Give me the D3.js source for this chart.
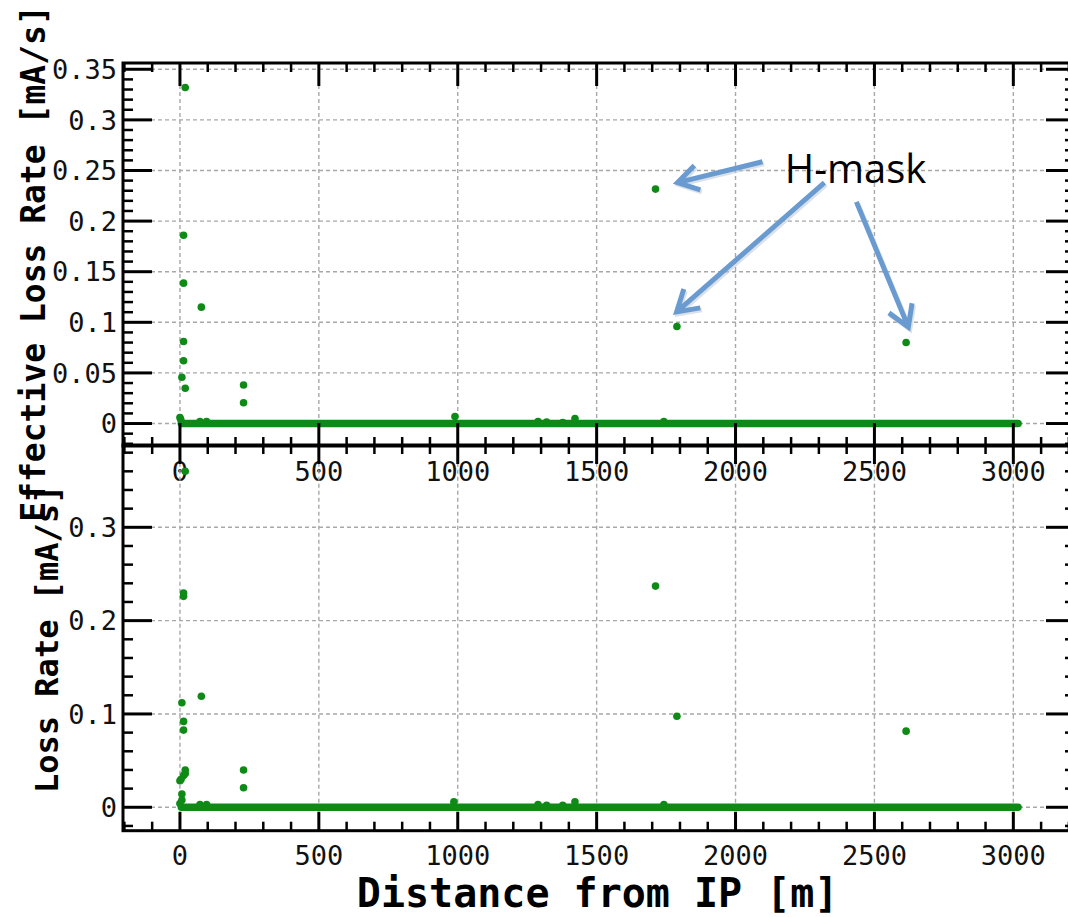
<!DOCTYPE html>
<html><head><meta charset="utf-8">
<script src="https://cdn.jsdelivr.net/npm/d3@7/dist/d3.min.js"></script>
<style>html,body{margin:0;padding:0;background:#fff}svg{display:block}</style>
</head><body>
<svg id="c" width="1068" height="917"></svg>
<script>
// ---------------- data ----------------
const xMajorTicks = [0, 500, 1000, 1500, 2000, 2500, 3000];
const xTickLabels = ["0", "500", "1000", "1500", "2000", "2500", "3000"];
const xMinorTicks = [-200,-100,100,200,300,400,600,700,800,900,1100,1200,1300,1400,1600,1700,1800,1900,2100,2200,2300,2400,2600,2700,2800,2900,3100,3200];

const topYTicks = [0, 0.05, 0.1, 0.15, 0.2, 0.25, 0.3, 0.35];
const topYTickLabels = ["0", "0.05", "0.1", "0.15", "0.2", "0.25", "0.3", "0.35"];
const topYMinor = [-0.02,-0.01,0.01,0.02,0.03,0.04,0.06,0.07,0.08,0.09,0.11,0.12,0.13,0.14,0.16,0.17,0.18,0.19,0.21,0.22,0.23,0.24,0.26,0.27,0.28,0.29,0.31,0.32,0.33,0.34];

const bottomYTicks = [0, 0.1, 0.2, 0.3];
const bottomYTickLabels = ["0", "0.1", "0.2", "0.3"];
const bottomYMinor = [-0.02,0.02,0.04,0.06,0.08,0.12,0.14,0.16,0.18,0.22,0.24,0.26,0.28,0.32,0.34,0.36,0.38];

// dense run of near-zero points (drawn as one band): [distance, rate]
const topBaseline = [[5, 0], [3017, 0]];
const bottomBaseline = [[5, 0], [3017, 0]];

// Effective loss rate [mA/s] vs distance [m]
const topPoints = [
  [19, 0.332], [13, 0.186], [13, 0.1387], [77, 0.115], [13, 0.081], [13, 0.062],
  [7, 0.0457], [19, 0.0348], [229, 0.038], [229, 0.0206],
  [1712, 0.2316], [1789, 0.0958], [2614, 0.080],
  [0, 0.006], [3, 0.004], [72, 0.002], [96, 0.002],
  [990, 0.007], [1289, 0.002], [1320, 0.0015], [1378, 0.001], [1422, 0.005], [1742, 0.002]
];
// Loss rate [mA/s] vs distance [m]
const bottomPoints = [
  [19, 0.360], [13, 0.2295], [13, 0.226], [7, 0.112], [77, 0.119], [13, 0.092], [13, 0.0827],
  [19, 0.040], [19, 0.0363], [13, 0.034], [0, 0.0285], [4, 0.030], [7, 0.0142], [7, 0.0078], [0, 0.004],
  [229, 0.040], [229, 0.021],
  [1712, 0.237], [1789, 0.0976], [2614, 0.0816],
  [72, 0.003], [96, 0.003],
  [986, 0.006], [1289, 0.003], [1320, 0.002], [1378, 0.002], [1422, 0.006], [1742, 0.003]
];

// annotation (in top-panel data units)
const annotationLabel = "H-mask";
const annotationAnchor = [2432, 0.2515];
const annotationArrows = [
  [[2097, 0.2586], [1791, 0.238]],
  [[2320, 0.2379], [1788, 0.1103]],
  [[2435, 0.219], [2622, 0.0954]]
];

// ---------------- drawing ----------------
const svg = d3.select("#c");
svg.append("rect").attr("width", 1068).attr("height", 917).attr("fill", "#fff");

const MONO = "'DejaVu Sans Mono', 'Liberation Mono', monospace";
const GREEN = "#0f8a17";
const x = d3.scaleLinear().domain([-205, 3222]).range([123, 1075]);

function panel(cfg) {
  const y = d3.scaleLinear().domain(cfg.yDomain).range(cfg.yRange);
  const g = svg.append("g");
  const [x0, x1] = x.range();
  const [yb, yt] = cfg.yRange;

  // grid
  const grid = g.append("g").attr("stroke", "#a8a8a8").attr("stroke-width", 1.4).attr("stroke-dasharray", "4,3");
  grid.selectAll(".gv").data(xMajorTicks).join("line")
    .attr("x1", d => x(d)).attr("x2", d => x(d)).attr("y1", yb).attr("y2", yt);
  grid.selectAll(".gh").data(cfg.yTicks).join("line")
    .attr("x1", x0).attr("x2", x1).attr("y1", d => y(d)).attr("y2", d => y(d));

  // data: dense band + points
  g.append("path").datum(cfg.baseline)
    .attr("d", d3.line().x(d => x(d[0])).y(d => y(d[1])))
    .attr("stroke", GREEN).attr("stroke-width", 7.5).attr("stroke-linecap", "round").attr("fill", "none");
  g.selectAll(".pt").data(cfg.points).join("circle")
    .attr("cx", d => x(d[0])).attr("cy", d => y(d[1])).attr("r", 3.8).attr("fill", GREEN);

  // frame
  g.append("rect").attr("x", x0).attr("y", yt).attr("width", x1 - x0).attr("height", yb - yt)
    .attr("fill", "none").attr("stroke", "#000").attr("stroke-width", 3);

  // ticks
  const t = g.append("g").attr("stroke", "#000");
  const xm = cfg.xMajorLen, xn = 9, ym = 29, yn = 10;
  t.selectAll(".xb").data(xMajorTicks).join("line").attr("stroke-width", 3)
    .attr("x1", d => x(d)).attr("x2", d => x(d)).attr("y1", yb).attr("y2", yb - xm);
  t.selectAll(".xt").data(xMajorTicks).join("line").attr("stroke-width", 3)
    .attr("x1", d => x(d)).attr("x2", d => x(d)).attr("y1", yt).attr("y2", yt + xm);
  t.selectAll(".xbm").data(xMinorTicks).join("line").attr("stroke-width", 2.5)
    .attr("x1", d => x(d)).attr("x2", d => x(d)).attr("y1", yb).attr("y2", yb - xn);
  t.selectAll(".xtm").data(xMinorTicks).join("line").attr("stroke-width", 2.5)
    .attr("x1", d => x(d)).attr("x2", d => x(d)).attr("y1", yt).attr("y2", yt + xn);
  t.selectAll(".yl").data(cfg.yTicks).join("line").attr("stroke-width", 3)
    .attr("x1", x0).attr("x2", x0 + ym).attr("y1", d => y(d)).attr("y2", d => y(d));
  t.selectAll(".yr").data(cfg.yTicks).join("line").attr("stroke-width", 3)
    .attr("x1", x1).attr("x2", x1 - ym).attr("y1", d => y(d)).attr("y2", d => y(d));
  t.selectAll(".ylm").data(cfg.yMinor).join("line").attr("stroke-width", 2.5)
    .attr("x1", x0).attr("x2", x0 + yn).attr("y1", d => y(d)).attr("y2", d => y(d));
  t.selectAll(".yrm").data(cfg.yMinor).join("line").attr("stroke-width", 2.5)
    .attr("x1", x1).attr("x2", x1 - yn).attr("y1", d => y(d)).attr("y2", d => y(d));

  // tick labels
  const lab = g.append("g").attr("font-family", MONO).attr("font-size", 27).attr("fill", "#111");
  lab.selectAll(".ylab").data(cfg.yTicks).join("text")
    .attr("x", x0 - 6).attr("y", d => y(d)).attr("dy", "0.36em").attr("text-anchor", "end")
    .text((d, i) => cfg.yLabels[i]);
  lab.selectAll(".xlab").data(xMajorTicks).join("text")
    .attr("x", d => x(d)).attr("y", cfg.xLabelBaseline).attr("text-anchor", "middle")
    .text((d, i) => xTickLabels[i]);

  // y title
  g.append("text").attr("transform", `translate(${cfg.titleX},${(yb + yt) / 2 + cfg.titleShift}) rotate(-90)`)
    .attr("text-anchor", "middle").attr("font-family", MONO).attr("font-weight", "bold")
    .attr("font-size", cfg.titleSize).attr("fill", "#000").text(cfg.title);
  return y;
}

const yTop = panel({
  yDomain: [-0.0222, 0.3562], yRange: [446, 63], yTicks: topYTicks, yLabels: topYTickLabels, yMinor: topYMinor,
  points: topPoints, baseline: topBaseline, xMajorLen: 23, xLabelBaseline: 481,
  title: "Effective Loss Rate [mA/s]", titleX: 45, titleShift: 9, titleSize: 33
});
const yBot = panel({
  yDomain: [-0.0251, 0.3882], yRange: [830.7, 445], yTicks: bottomYTicks, yLabels: bottomYTickLabels, yMinor: bottomYMinor,
  points: bottomPoints, baseline: bottomBaseline, xMajorLen: 19, xLabelBaseline: 865,
  title: "Loss Rate [mA/s]", titleX: 58, titleShift: 1, titleSize: 32
});

// x title
svg.append("text").attr("x", (x(0) + x(3000)) / 2 + 1).attr("y", 907).attr("text-anchor", "middle")
  .attr("font-family", MONO).attr("font-weight", "bold").attr("font-size", 40).attr("fill", "#000")
  .text("Distance from IP [m]");

// annotation
const ARROW = "#6a9bd0";
const ann = svg.append("g");
annotationArrows.forEach(([from, to]) => {
  const x1 = x(from[0]), y1 = yTop(from[1]), x2 = x(to[0]), y2 = yTop(to[1]);
  const ang = Math.atan2(y2 - y1, x2 - x1);
  const L = 24, a = 0.55;
  const p = d3.path();
  p.moveTo(x1, y1); p.lineTo(x2, y2);
  p.moveTo(x2 - L * Math.cos(ang - a), y2 - L * Math.sin(ang - a));
  p.lineTo(x2, y2);
  p.lineTo(x2 - L * Math.cos(ang + a), y2 - L * Math.sin(ang + a));
  ann.append("path").attr("d", p.toString()).attr("fill", "none").attr("stroke", "#b8c4d4")
    .attr("stroke-width", 5).attr("stroke-linejoin", "miter").attr("transform", "translate(1.5,2)").attr("opacity", 0.5);
  ann.append("path").attr("d", p.toString()).attr("fill", "none").attr("stroke", ARROW)
    .attr("stroke-width", 5).attr("stroke-linejoin", "miter");
});
ann.append("text").attr("x", x(annotationAnchor[0])).attr("y", yTop(annotationAnchor[1])).attr("dy", "0.35em")
  .attr("text-anchor", "middle").attr("font-family", "'Open Sans', 'Noto Sans', sans-serif")
  .attr("font-size", 40).attr("fill", "#000").text(annotationLabel);
</script>
</body></html>
